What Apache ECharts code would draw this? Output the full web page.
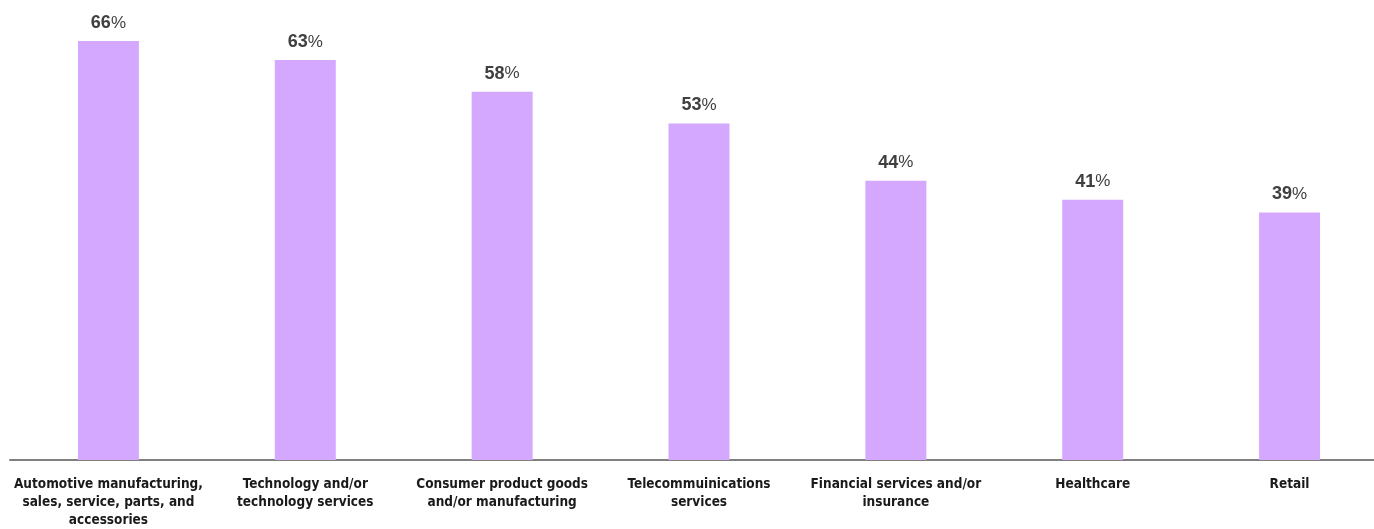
<!DOCTYPE html>
<html>
<head>
<meta charset="utf-8">
<script src="https://cdn.jsdelivr.net/npm/echarts@6/dist/echarts.min.js"></script>
<style>
  html, body { margin: 0; padding: 0; background: #ffffff; overflow: hidden; width: 1374px; height: 529px; }
  /* the category band runs a little past the right edge of the page */
  #chart { width: 1392px; height: 529px; }
</style>
</head>
<body>
<div id="chart"></div>
<script>
// Industry categories (line breaks as shown under the axis)
const categories = [
  'Automotive manufacturing,\nsales, service, parts, and\naccessories',
  'Technology and/or\ntechnology services',
  'Consumer product goods\nand/or manufacturing',
  'Telecommuinications\nservices',
  'Financial services and/or\ninsurance',
  'Healthcare',
  'Retail'
];

// Share of respondents, percent
const values = [66, 63, 58, 53, 44, 41, 39];

const chart = echarts.init(document.getElementById('chart'), null, { renderer: 'canvas' });

chart.setOption({
  animation: false,
  grid: { left: 10, right: 4, top: 15.6, bottom: 69, containLabel: false },
  xAxis: {
    type: 'category',
    data: categories,
    axisLine: { show: true, lineStyle: { color: '#808080', width: 2 } },
    axisTick: { show: false },
    axisLabel: {
      interval: 0,
      margin: 15,
      color: '#1a1a1a',
      fontFamily: '"Liberation Sans Narrow", "DejaVu Sans Condensed", sans-serif',
      fontWeight: 'bold',
      fontSize: 13.5,
      lineHeight: 18
    }
  },
  yAxis: {
    type: 'value',
    min: 0,
    max: 70,
    show: false,
    splitLine: { show: false }
  },
  series: [{
    type: 'bar',
    data: values,
    barWidth: 61,
    itemStyle: { color: '#D4A8FF' },
    label: {
      show: true,
      position: 'top',
      distance: 9,
      formatter: p => '{n|' + p.value + '}{p|%}',
      rich: {
        n: { fontFamily: 'Arial, "Liberation Sans", sans-serif', fontWeight: 'bold', fontSize: 18, color: '#404040' },
        p: { fontFamily: 'Arial, "Liberation Sans", sans-serif', fontWeight: 'normal', fontSize: 17, color: '#404040' }
      }
    }
  }]
});
</script>
</body>
</html>
